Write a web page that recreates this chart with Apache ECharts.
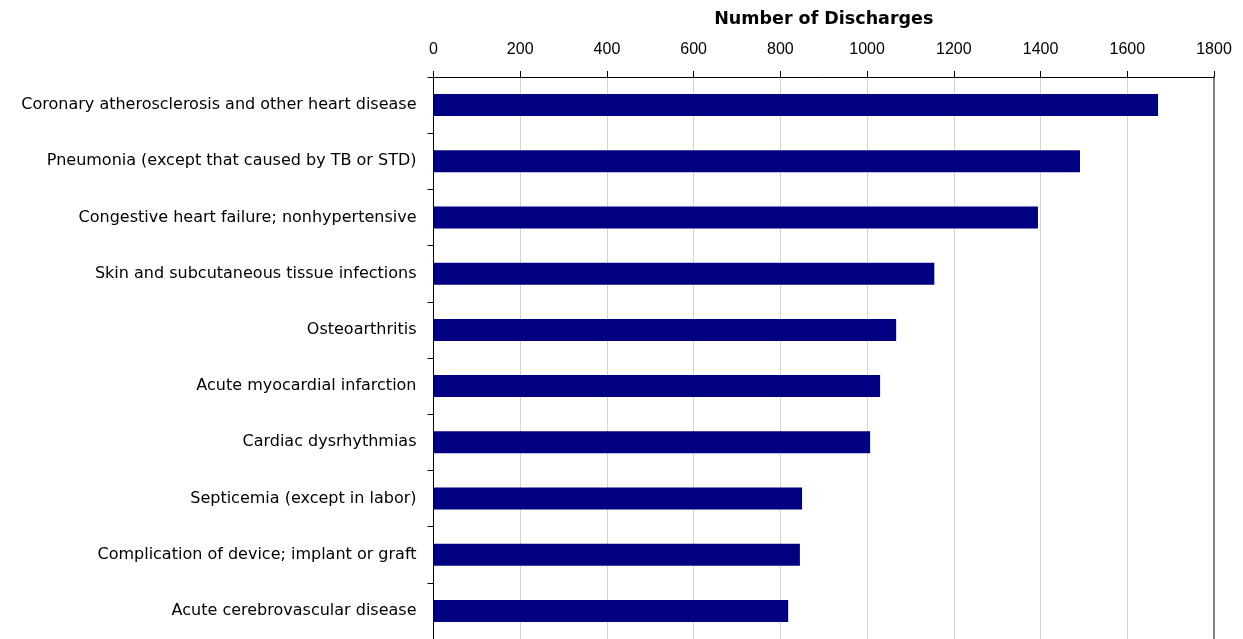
<!DOCTYPE html>
<html>
<head>
<meta charset="utf-8">
<script src="https://cdn.jsdelivr.net/npm/echarts@6/dist/echarts.min.js"></script>
<style>
  html, body { margin: 0; padding: 0; background: #fff; }
  #chart { width: 1243px; height: 639px; }
</style>
</head>
<body>
<div id="chart"></div>
<script>
// categories top to bottom
const categories = [
  "Coronary atherosclerosis and other heart disease",
  "Pneumonia (except that caused by TB or STD)",
  "Congestive heart failure; nonhypertensive",
  "Skin and subcutaneous tissue infections",
  "Osteoarthritis",
  "Acute myocardial infarction",
  "Cardiac dysrhythmias",
  "Septicemia (except in labor)",
  "Complication of device; implant or graft",
  "Acute cerebrovascular disease"
];
const discharges = [1671, 1491, 1394, 1155, 1067, 1030, 1007, 850, 845, 818];
const axisMin = 0;
const axisMax = 1800;
const axisStep = 200;

const chart = echarts.init(document.getElementById("chart"));

const option = {
  backgroundColor: "#ffffff",
  animation: false,
  textStyle: { fontFamily: "Liberation Sans, Arial, sans-serif" },
  grid: {
    left: 433.5,
    right: 29,
    top: 77,
    height: 565,
    containLabel: false
  },
  xAxis: {
    type: "value",
    position: "top",
    min: axisMin,
    max: axisMax,
    interval: axisStep,
    name: "Number of Discharges",
    nameLocation: "middle",
    nameGap: 49,
    nameTextStyle: {
      fontFamily: "DejaVu Sans, sans-serif",
      fontSize: 17.5,
      fontWeight: "bold",
      color: "#000"
    },
    axisLine: { show: true, lineStyle: { color: "#000", width: 1 } },
    axisTick: { show: true, length: 6, lineStyle: { color: "#000" } },
    axisLabel: {
      fontFamily: "Liberation Sans, Arial, sans-serif",
      fontSize: 16,
      color: "#000",
      margin: 19,
      formatter: (v) => String(v)
    },
    splitLine: { show: true, lineStyle: { color: "#d4d4d4", width: 1 } }
  },
  yAxis: [
    {
      type: "category",
      data: categories,
      inverse: true,
      axisLine: { show: true, lineStyle: { color: "#000", width: 1 } },
      axisTick: { show: true, length: 6, lineStyle: { color: "#000" } },
      axisLabel: {
        fontFamily: "DejaVu Sans, sans-serif",
        fontSize: 16,
        color: "#000",
        margin: 17
      },
      splitLine: { show: false }
    },
    {
      // right border of the plot
      type: "category",
      data: categories,
      inverse: true,
      position: "right",
      axisLine: { show: true, lineStyle: { color: "#808080", width: 2 } },
      axisTick: { show: false },
      axisLabel: { show: false },
      splitLine: { show: false }
    }
  ],
  series: [
    {
      name: "Number of Discharges",
      type: "bar",
      data: discharges,
      barWidth: 22,
      itemStyle: { color: "#000080" }
    }
  ]
};

chart.setOption(option);
</script>
</body>
</html>
